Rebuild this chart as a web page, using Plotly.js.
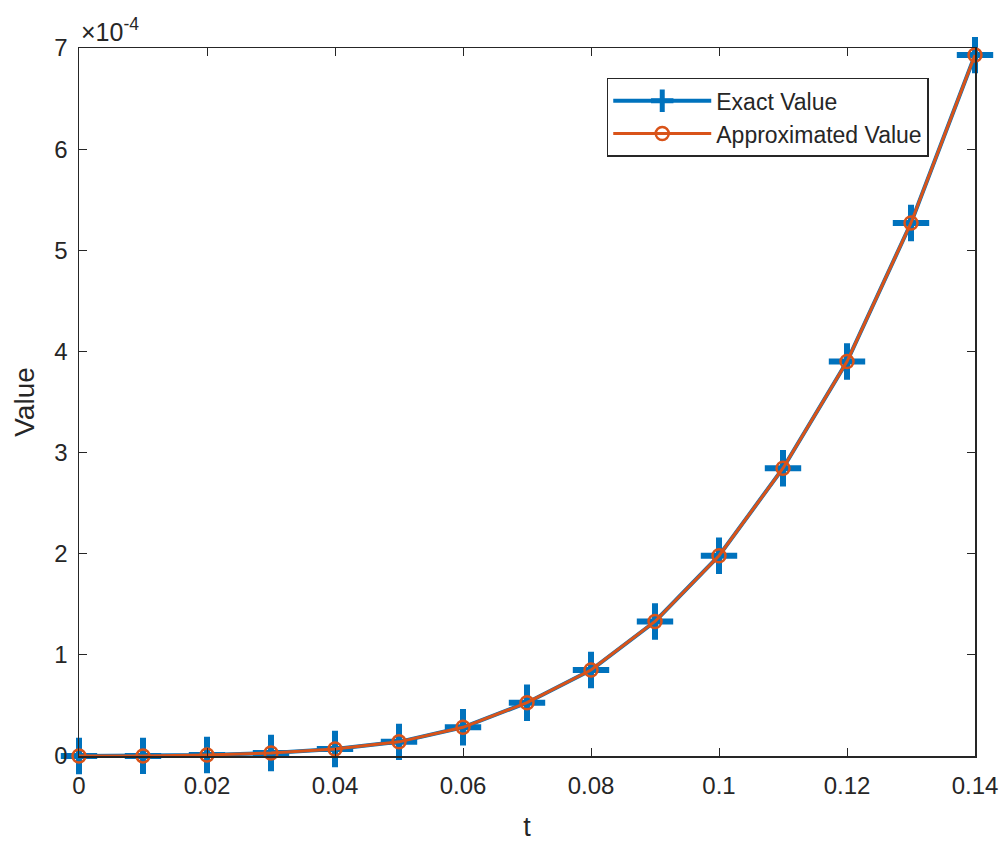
<!DOCTYPE html>
<html>
<head>
<meta charset="utf-8">
<script src="https://cdn.plot.ly/plotly-3.0.1.min.js"></script>
<style>html,body{margin:0;padding:0;background:#fff;}#chart{width:1005px;height:842px;}</style>
</head>
<body>
<div id="chart"></div>
<script>
// time values
const t = [0, 0.01, 0.02, 0.03, 0.04, 0.05, 0.06, 0.07, 0.08, 0.09, 0.10, 0.11, 0.12, 0.13, 0.14];
// values in units of 1e-4
const exactValue = [0, 0.001, 0.01, 0.03, 0.069, 0.14, 0.284, 0.527, 0.85, 1.33, 1.98, 2.845, 3.90, 5.27, 6.93];
const approxValue = [0, 0.001, 0.01, 0.03, 0.069, 0.14, 0.284, 0.527, 0.85, 1.33, 1.98, 2.845, 3.90, 5.27, 6.93];
const xTicks = [0, 0.02, 0.04, 0.06, 0.08, 0.1, 0.12, 0.14];
const xTickText = ['0', '0.02', '0.04', '0.06', '0.08', '0.1', '0.12', '0.14'];
const yTicks = [0, 1, 2, 3, 4, 5, 6, 7];
const yTickText = ['0', '1', '2', '3', '4', '5', '6', '7'];
const seriesNames = ['Exact Value', 'Approximated Value'];
const exponentLabel = '\u00d710<sup>-4</sup>';

const axisColor = '#262626';
const fam = 'Liberation Sans, Arial, sans-serif';

const traces = [
  {
    x: t, y: exactValue, name: seriesNames[0], type: 'scatter', mode: 'lines+markers', cliponaxis: false,
    line: {color: '#0072BD', width: 4},
    marker: {symbol: 'cross-thin', size: 26, line: {color: '#0072BD', width: 6}, color: '#0072BD'}
  },
  {
    x: t, y: approxValue, name: seriesNames[1], type: 'scatter', mode: 'lines+markers', cliponaxis: false,
    line: {color: '#D95319', width: 3},
    marker: {symbol: 'circle-open', size: 13, line: {color: '#D95319', width: 2.5}, color: '#D95319'}
  }
];

const axisCommon = {
  showgrid: false, zeroline: false, showline: true, mirror: 'ticks',
  linecolor: axisColor, linewidth: 1.5, ticks: 'inside', ticklen: 8, tickwidth: 1, tickcolor: axisColor,
  tickfont: {family: fam, size: 24, color: axisColor}
};

const layout = {
  width: 1005, height: 842,
  margin: {l: 79, r: 30, t: 48, b: 86},
  paper_bgcolor: '#ffffff', plot_bgcolor: '#ffffff',
  font: {family: fam, size: 24, color: axisColor},
  showlegend: true,
  legend: {
    x: 0.589, y: 0.958, xanchor: 'left', yanchor: 'top',
    bgcolor: '#ffffff', bordercolor: axisColor, borderwidth: 1.5,
    font: {family: fam, size: 23, color: axisColor},
    itemwidth: 98, tracegroupgap: 0
  },
  xaxis: Object.assign({}, axisCommon, {
    range: [0, 0.14], tickvals: xTicks, ticktext: xTickText, ticklabelstandoff: 8,
    title: {text: 't', font: {family: fam, size: 27, color: axisColor}, standoff: 20}
  }),
  yaxis: Object.assign({}, axisCommon, {
    range: [0, 7], tickvals: yTicks, ticktext: yTickText, ticklabelstandoff: 5,
    title: {text: 'Value', font: {family: fam, size: 28, color: axisColor}, standoff: 11}
  }),
  annotations: [{
    text: exponentLabel, xref: 'paper', yref: 'paper', x: 0, y: 1,
    xanchor: 'left', yanchor: 'bottom', showarrow: false, yshift: 0,
    font: {family: fam, size: 25, color: axisColor}
  }]
};

Plotly.newPlot('chart', traces, layout, {displayModeBar: false, staticPlot: true});
</script>
</body>
</html>
